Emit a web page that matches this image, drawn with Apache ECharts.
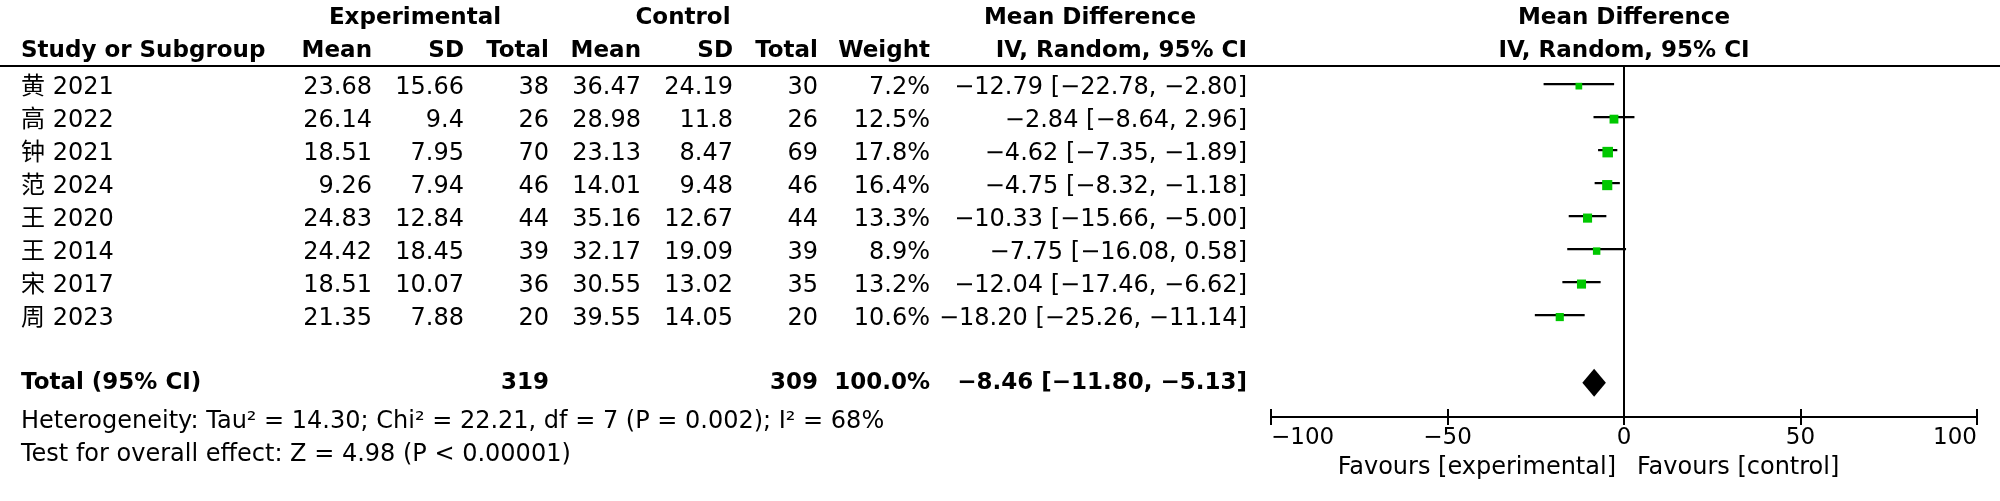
<!DOCTYPE html>
<html>
<head>
<meta charset="utf-8">
<script src="https://cdn.jsdelivr.net/npm/echarts@6/dist/echarts.min.js"></script>
<style>
html,body{margin:0;padding:0;background:#fff;}
#chart{width:2000px;height:501px;}
</style>
</head>
<body>
<div id="chart"></div>
<script>
// ---- data ----
const studies = ['黄 2021','高 2022','钟 2021','范 2024','王 2020','王 2014','宋 2017','周 2023'];
const expMean = [23.68,26.14,18.51,9.26,24.83,24.42,18.51,21.35];
const expSD   = [15.66,9.4,7.95,7.94,12.84,18.45,10.07,7.88];
const expN    = [38,26,70,46,44,39,36,20];
const ctlMean = [36.47,28.98,23.13,14.01,35.16,32.17,30.55,39.55];
const ctlSD   = [24.19,11.8,8.47,9.48,12.67,19.09,13.02,14.05];
const ctlN    = [30,26,69,46,44,39,35,20];
const weight  = [7.2,12.5,17.8,16.4,13.3,8.9,13.2,10.6];
const md      = [-12.79,-2.84,-4.62,-4.75,-10.33,-7.75,-12.04,-18.20];
const ciLow   = [-22.78,-8.64,-7.35,-8.32,-15.66,-16.08,-17.46,-25.26];
const ciHigh  = [-2.80,2.96,-1.89,-1.18,-5.00,0.58,-6.62,-11.14];
const totalExpN = 319;
const totalCtlN = 309;
const totalWeight = 100.0;
const totalMD = -8.46;
const totalLow = -11.80;
const totalHigh = -5.13;
const heterogeneityText = 'Heterogeneity: Tau² = 14.30; Chi² = 22.21, df = 7 (P = 0.002); I² = 68%';
const overallText = 'Test for overall effect: Z = 4.98 (P < 0.00001)';
const xTickMin = -100, xTickMax = 100, xTickStep = 50;
const favoursLeft = 'Favours [experimental]';
const favoursRight = 'Favours [control]';

// ---- helpers ----
const FONT = '"DejaVu Sans", "Noto Sans CJK SC", sans-serif';
const FS_BOLD = 23;
const FS_REG = 24;
const FS_AXIS = 23;
const minus = s => String(s).replace(/-/g, '\u2212');
const f2 = v => minus(v.toFixed(2));
const ciStr = (m, l, h) => f2(m) + ' [' + f2(l) + ', ' + f2(h) + ']';

const totalRow = studies.length + 1.05;

const rowData = studies.map((s, i) => [i, md[i], ciLow[i], ciHigh[i], weight[i]]);

const chart = echarts.init(document.getElementById('chart'), null, {renderer: 'canvas'});

const option = {
  animation: false,
  backgroundColor: '#fff',
  grid: {left: 1271, right: 23, top: 66, bottom: 84, containLabel: false},
  xAxis: [{
    type: 'value', min: xTickMin, max: xTickMax, interval: xTickStep, position: 'bottom',
    axisLine: {show: true, onZero: false, lineStyle: {color: '#000', width: 2}},
    axisTick: {show: true, length: 8, lineStyle: {color: '#000', width: 2}},
    axisLabel: {show: true, color: '#000', fontSize: FS_AXIS, fontFamily: FONT, margin: 10,
      alignMinLabel: 'left', alignMaxLabel: 'right',
      formatter: v => minus(v)},
    splitLine: {show: false}
  }, {
    type: 'value', min: xTickMin, max: xTickMax, interval: xTickStep, position: 'bottom',
    axisLine: {show: false, onZero: false},
    axisTick: {show: true, inside: true, length: 8, lineStyle: {color: '#000', width: 2}},
    axisLabel: {show: false},
    splitLine: {show: false}
  }],
  yAxis: {
    type: 'value', inverse: true, min: -0.55, max: 10.09,
    show: false, splitLine: {show: false}
  },
  series: [{
    type: 'custom',
    xAxisIndex: 0, yAxisIndex: 0,
    clip: false,
    data: rowData,
    renderItem: function (params, api) {
      const y = api.value(0);
      const pLo = api.coord([api.value(2), y]);
      const pHi = api.coord([api.value(3), y]);
      const pM = api.coord([api.value(1), y]);
      const side = 2.5 * Math.sqrt(api.value(4));
      return {
        type: 'group',
        children: [{
          type: 'line',
          shape: {x1: pLo[0], y1: pLo[1], x2: pHi[0], y2: pHi[1]},
          style: {stroke: '#000', lineWidth: 2.2}
        }, {
          type: 'rect',
          shape: {x: pM[0] - side / 2, y: pM[1] + 2 - side / 2, width: side, height: side},
          style: {fill: '#00c800'}
        }]
      };
    },
    markLine: {
      silent: true, symbol: 'none', animation: false,
      lineStyle: {color: '#000', width: 2, type: 'solid'},
      label: {show: false},
      data: [{xAxis: 0}]
    }
  }, {
    type: 'custom',
    xAxisIndex: 0, yAxisIndex: 0,
    clip: false,
    data: [[totalRow, totalMD, totalLow, totalHigh]],
    renderItem: function (params, api) {
      const y = api.value(0);
      const pLo = api.coord([api.value(2), y]);
      const pHi = api.coord([api.value(3), y]);
      const pM = api.coord([api.value(1), y]);
      const h = 14;
      return {
        type: 'polygon',
        shape: {points: [[pLo[0], pM[1]], [pM[0], pM[1] - h], [pHi[0], pM[1]], [pM[0], pM[1] + h]]},
        style: {fill: '#000'}
      };
    }
  }]
};

chart.setOption(option);

// ---- table text ----
const yPix = v => chart.convertToPixel({yAxisIndex: 0}, v);
const x0 = chart.convertToPixel({xAxisIndex: 0}, 0);

function txt(x, y, s, align, bold) {
  return {
    type: 'text', x: x, y: y, silent: true,
    style: {text: s, fill: '#000', fontSize: bold ? FS_BOLD : FS_REG, fontFamily: FONT,
      fontWeight: bold ? 'bold' : 'normal', align: align || 'left', verticalAlign: 'middle'}
  };
}

const cols = {study: 21, eMean: 372, eSD: 464, eN: 549, cMean: 641, cSD: 733, cN: 818, w: 930, ci: 1247};
const els = [];
const h1 = 18, h2 = 51;
els.push(txt(415, h1, 'Experimental', 'center', true));
els.push(txt(683, h1, 'Control', 'center', true));
els.push(txt(1090, h1, 'Mean Difference', 'center', true));
els.push(txt(x0, h1, 'Mean Difference', 'center', true));
els.push(txt(cols.study, h2, 'Study or Subgroup', 'left', true));
els.push(txt(cols.eMean, h2, 'Mean', 'right', true));
els.push(txt(cols.eSD, h2, 'SD', 'right', true));
els.push(txt(cols.eN, h2, 'Total', 'right', true));
els.push(txt(cols.cMean, h2, 'Mean', 'right', true));
els.push(txt(cols.cSD, h2, 'SD', 'right', true));
els.push(txt(cols.cN, h2, 'Total', 'right', true));
els.push(txt(cols.w, h2, 'Weight', 'right', true));
els.push(txt(cols.ci, h2, 'IV, Random, 95% CI', 'right', true));
els.push(txt(x0, h2, 'IV, Random, 95% CI', 'center', true));
els.push({type: 'line', silent: true, shape: {x1: 0, y1: 66, x2: 2000, y2: 66}, style: {stroke: '#000', lineWidth: 2}});

studies.forEach((s, i) => {
  const y = yPix(i) + 4;
  els.push(txt(cols.study, y, s, 'left'));
  els.push(txt(cols.eMean, y, expMean[i].toFixed(2), 'right'));
  els.push(txt(cols.eSD, y, String(expSD[i]), 'right'));
  els.push(txt(cols.eN, y, String(expN[i]), 'right'));
  els.push(txt(cols.cMean, y, ctlMean[i].toFixed(2), 'right'));
  els.push(txt(cols.cSD, y, String(ctlSD[i]), 'right'));
  els.push(txt(cols.cN, y, String(ctlN[i]), 'right'));
  els.push(txt(cols.w, y, weight[i].toFixed(1) + '%', 'right'));
  els.push(txt(cols.ci, y, ciStr(md[i], ciLow[i], ciHigh[i]), 'right'));
});
const ty = yPix(totalRow);
els.push(txt(cols.study, ty, 'Total (95% CI)', 'left', true));
els.push(txt(cols.eN, ty, String(totalExpN), 'right', true));
els.push(txt(cols.cN, ty, String(totalCtlN), 'right', true));
els.push(txt(cols.w, ty, totalWeight.toFixed(1) + '%', 'right', true));
els.push(txt(cols.ci, ty, ciStr(totalMD, totalLow, totalHigh), 'right', true));
els.push(txt(cols.study, 422, heterogeneityText, 'left'));
els.push(txt(cols.study, 455, overallText, 'left'));
els.push(txt(x0 - 8, 468, favoursLeft, 'right'));
els.push(txt(x0 + 13, 468, favoursRight, 'left'));

chart.setOption({graphic: {elements: els}});
</script>
</body>
</html>
